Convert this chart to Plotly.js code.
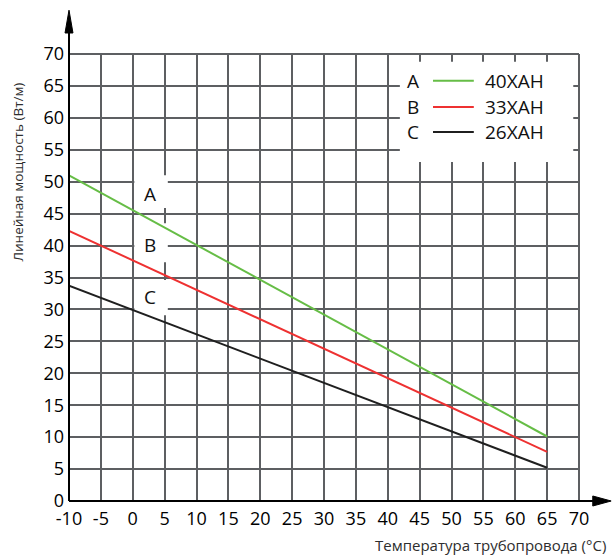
<!DOCTYPE html>
<html>
<head>
<meta charset="utf-8">
<script src="https://cdn.plot.ly/plotly-3.0.1.min.js"></script>
<style>html,body{margin:0;padding:0;background:#fff;}#chart{width:612px;height:559px;}</style>
</head>
<body>
<div id="chart"></div>
<script>
// Data
const temps = [-10, 65];
const seriesLetters = ["A", "B", "C"];
const seriesNames = ["40XAH", "33XAH", "26XAH"];
const powerA = [51.0, 10.1];
const powerB = [42.3, 7.7];
const powerC = [33.7, 5.2];
const seriesColors = ["#66bd46", "#ee3131", "#1f1f1f"];
const xTicks = [-10, -5, 0, 5, 10, 15, 20, 25, 30, 35, 40, 45, 50, 55, 60, 65, 70];
const yTicks = [0, 5, 10, 15, 20, 25, 30, 35, 40, 45, 50, 55, 60, 65, 70];
const xTitle = "Температура трубопровода (°C)";
const yTitle = "Линейная мощность (Вт/м)";

const font = "'Open Sans', 'Noto Sans', sans-serif";
const gridColor = "#5d5f62";
const powers = [powerA, powerB, powerC];

const traces = powers.map((p, i) => ({
  x: temps, y: p, type: "scatter", mode: "lines",
  name: seriesNames[i],
  line: {color: seriesColors[i], width: 2},
  showlegend: false, hoverinfo: "skip"
}));

// in-plot label positions (data coords)
const lblX = 2.7;
const lblY = [48.1, 40.1, 31.9];
const lblBox = [[45.9, 51.0], [37.4, 43.5], [29.1, 34.6]];
// legend positions
const legRows = [65.8, 61.7, 57.8];

const shapes = [];
// white legend background
shapes.push({type: "rect", xref: "x", yref: "y", x0: 41.9, x1: 69.1, y0: 53.1, y1: 68.8,
  fillcolor: "#fff", line: {width: 0}, layer: "between"});
// white label backgrounds
lblBox.forEach(b => shapes.push({type: "rect", xref: "x", yref: "y", x0: 0.25, x1: 5.5, y0: b[0], y1: b[1],
  fillcolor: "#fff", line: {width: 0}, layer: "between"}));
// legend line samples
legRows.forEach((y, i) => shapes.push({type: "line", xref: "x", yref: "y", x0: 47.1, x1: 53.5, y0: y, y1: y,
  line: {color: seriesColors[i], width: 2}, layer: "above"}));
// top and right border (grid colour)
shapes.push({type: "line", xref: "paper", yref: "paper", x0: 0, x1: 1, y0: 1, y1: 1, line: {color: gridColor, width: 2}});
shapes.push({type: "line", xref: "paper", yref: "paper", x0: 1, x1: 1, y0: 0, y1: 1, line: {color: gridColor, width: 2}});
// axes with arrows
shapes.push({type: "line", xref: "paper", yref: "paper", x0: 0, x1: 1.035, y0: 0, y1: 0, line: {color: "#000", width: 2}});
shapes.push({type: "path", xref: "paper", yref: "paper",
  path: "M 1.027 -0.0112 L 1.063 0 L 1.027 0.0112 Z", fillcolor: "#000", line: {color: "#000", width: 1}});
shapes.push({type: "line", xref: "paper", yref: "paper", x0: 0, x1: 0, y0: 0, y1: 1.05, line: {color: "#000", width: 2}});
shapes.push({type: "path", xref: "paper", yref: "paper",
  path: "M -0.0078 1.047 L 0 1.098 L 0.0078 1.047 Z", fillcolor: "#000", line: {color: "#000", width: 1}});

const annotations = [];
seriesLetters.forEach((L, i) => {
  annotations.push({x: lblX, y: lblY[i], xref: "x", yref: "y", text: L, showarrow: false,
    font: {family: font, size: 19, color: "#111"}});
  annotations.push({x: 44.0, y: legRows[i], xref: "x", yref: "y", text: L, showarrow: false,
    font: {family: font, size: 19, color: "#111"}});
  annotations.push({x: 54.9, y: legRows[i], xref: "x", yref: "y", text: seriesNames[i], showarrow: false,
    xanchor: "left", font: {family: font, size: 19, color: "#111"}});
});
annotations.push({x: 1.057, y: -0.098, xref: "paper", yref: "paper", text: xTitle, showarrow: false,
  xanchor: "right", yanchor: "middle", font: {family: font, size: 15, color: "#2e2e2e"}});
annotations.push({x: -0.1, y: 0.735, xref: "paper", yref: "paper", text: yTitle, showarrow: false,
  textangle: -90, xanchor: "center", yanchor: "middle", font: {family: font, size: 13.5, color: "#2e2e2e"}});

const layout = {
  width: 612, height: 559,
  margin: {l: 69, r: 33, t: 54, b: 58, pad: 0},
  paper_bgcolor: "#fff", plot_bgcolor: "#fff",
  showlegend: false,
  xaxis: {range: [-10, 70], tickvals: xTicks, ticktext: xTicks.map(String), showgrid: true,
    gridcolor: gridColor, gridwidth: 2, zeroline: false, showline: false, ticks: "",
    tickfont: {family: font, size: 18, color: "#000"}, ticklabelstandoff: 5, fixedrange: true},
  yaxis: {range: [0, 70], tickvals: yTicks, ticktext: yTicks.map(String), showgrid: true,
    gridcolor: gridColor, gridwidth: 2, zeroline: false, showline: false, ticks: "",
    tickfont: {family: font, size: 18, color: "#000"}, ticklabelstandoff: 4, fixedrange: true},
  shapes: shapes,
  annotations: annotations
};

Plotly.newPlot("chart", traces, layout, {staticPlot: true, displayModeBar: false});
</script>
</body>
</html>
